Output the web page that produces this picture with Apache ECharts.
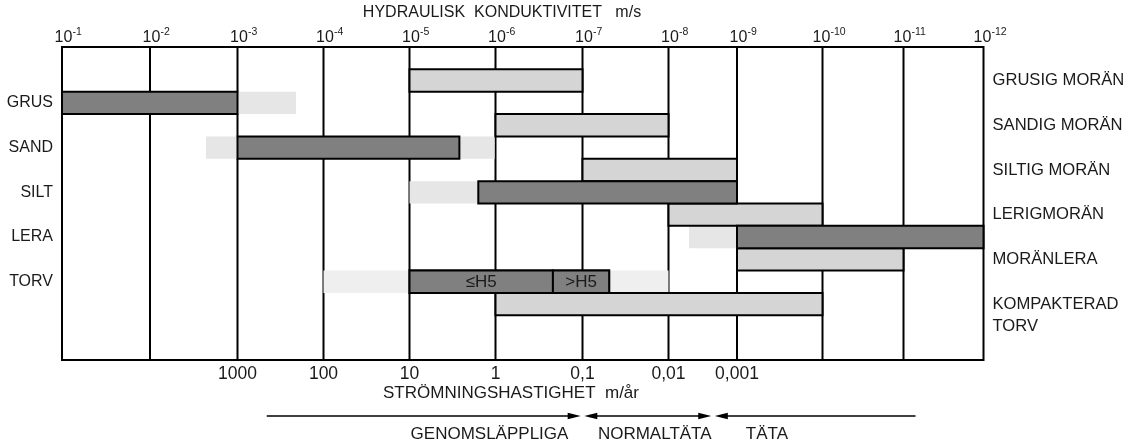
<!DOCTYPE html>
<html><head><meta charset="utf-8">
<script src="https://cdn.jsdelivr.net/npm/echarts@6/dist/echarts.min.js"></script>
<style>html,body{margin:0;padding:0;background:#fff}#chart{width:1137px;height:444px}</style>
</head><body><div id="chart"></div>
<script>
// ---------------- data ----------------
const titleText = 'HYDRAULISK  KONDUKTIVITET   m/s';
const conductivityExponents = [1, 2, 3, 4, 5, 6, 7, 8, 9, 10, 11, 12]; // K = 10^-n m/s
const velocityLabels = ['1000', '100', '10', '1', '0,1', '0,01', '0,001'];
const velocityExponents = [3, 4, 5, 6, 7, 8, 9];
const velocityTitle = 'STRÖMNINGSHASTIGHET  m/år';

const soilNames = ['GRUS', 'SAND', 'SILT', 'LERA', 'TORV'];
const soilFullRange = [[1, 3.68], [2.64, 5.99], [5, 9], [8.3, 12], [4, 8]];
const soilMainRange = [[1, 3], [3, 5.58], [5.8, 9], [9, 12], [5, 7.31]];
const torvSegmentNames = ['≤H5', '>H5'];
const torvSegmentRange = [[5, 6.66], [6.66, 7.31]];

const moraineNames = ['GRUSIG MORÄN', 'SANDIG MORÄN', 'SILTIG MORÄN', 'LERIGMORÄN', 'MORÄNLERA', 'KOMPAKTERAD\nTORV'];
const moraineRange = [[5, 7], [6, 8], [7, 9], [8, 10], [9, 11], [6, 10]];

const classNames = ['GENOMSLÄPPLIGA', 'NORMALTÄTA', 'TÄTA'];
const classRange = [[3.34, 7], [7, 8.65], [8.65, 11.15]];
const classHeads = [[false, true], [true, true], [true, false]];
const classLabelAt = [5.93, 7.84, 9.35];

// ---------------- layout / style ----------------
const FONT = '"Liberation Sans", Arial, sans-serif';
const TEXT = '#1a1a1a';
const DARK = '#808080', MORAINE = '#d5d5d5', EXT = '#e6e6e6', EXT_TORV = '#efefef';
const DECADE_WIDTHS = [88, 87.5, 86, 86, 86, 87, 86, 68.5, 85.5, 81, 80]; // drawing's uneven decade spacing
const CUM = [0];
DECADE_WIDTHS.forEach(w => CUM.push(CUM[CUM.length - 1] + w));
const X_MAX = CUM[CUM.length - 1];
function xOf(n) {
  const d = n - 1;
  const i = Math.max(0, Math.min(Math.floor(d), DECADE_WIDTHS.length - 1));
  return CUM[i] + (d - i) * DECADE_WIDTHS[i];
}

const ROWS = 14;
const rowLeft = new Array(ROWS).fill('');
const rowRight = new Array(ROWS).fill('');
const soilRow = i => 2 + 2 * i;
const moraineRow = i => 1 + 2 * i;
soilNames.forEach((n, i) => { rowLeft[soilRow(i)] = n; });
moraineNames.forEach((n, i) => { n.split('\n').forEach((part, k) => { rowRight[moraineRow(i) + k] = part; }); });
const rowIds = rowLeft.map((_, i) => String(i));

function rectItem(fillFn, stroke, withText) {
  return function (params, api) {
    const row = api.value(2);
    const p0 = api.coord([api.value(0), row]);
    const p1 = api.coord([api.value(1), row]);
    const h = api.size([0, 1])[1];
    const idx = params.dataIndex;
    const children = [{
      type: 'rect',
      shape: { x: p0[0], y: p0[1] - h / 2, width: p1[0] - p0[0], height: h },
      style: stroke ? { fill: fillFn(idx), stroke: '#000', lineWidth: 2 } : { fill: fillFn(idx) }
    }];
    if (withText) {
      children.push({
        type: 'text',
        style: { text: withText[idx], x: (p0[0] + p1[0]) / 2, y: p0[1] + 1, align: 'center', verticalAlign: 'middle',
                 font: '17px ' + FONT, fill: '#1a1a1a' }
      });
    }
    return { type: 'group', children };
  };
}

const option = {
  animation: false,
  backgroundColor: '#fff',
  grid: { left: 62, top: 47, width: X_MAX, height: 313, show: true, borderColor: '#000', borderWidth: 2, backgroundColor: 'transparent' },
  xAxis: { type: 'value', min: 0, max: X_MAX, show: false },
  yAxis: [
    { type: 'category', data: rowIds, inverse: true, position: 'left',
      axisLine: { show: false }, axisTick: { show: false }, splitLine: { show: false },
      axisLabel: { interval: 0, margin: 9, fontSize: 16, fontFamily: FONT, color: TEXT, formatter: (v, i) => rowLeft[i] } },
    { type: 'category', data: rowIds, inverse: true, position: 'right',
      axisLine: { show: false }, axisTick: { show: false }, splitLine: { show: false },
      axisLabel: { interval: 0, margin: 9, fontSize: 16.6, fontFamily: FONT, color: TEXT, formatter: (v, i) => rowRight[i] } }
  ],
  graphic: [
    { type: 'text', x: 502, y: 13, style: { text: titleText, font: '16px ' + FONT, fill: TEXT, align: 'center', verticalAlign: 'middle' } },
    { type: 'text', x: 511, y: 393, style: { text: velocityTitle, font: '17px ' + FONT, fill: TEXT, align: 'center', verticalAlign: 'middle' } }
  ],
  series: [
    { // vertical decade lines
      type: 'custom', z: 1, clip: false, encode: { x: 0, y: 1 },
      data: conductivityExponents.slice(1, -1).map(n => [xOf(n), 0]),
      renderItem: (params, api) => {
        const x = api.coord([api.value(0), 0])[0];
        const cs = params.coordSys;
        return { type: 'line', shape: { x1: x, y1: cs.y, x2: x, y2: cs.y + cs.height }, style: { stroke: '#000', lineWidth: 2 } };
      }
    },
    { // soil full ranges (light)
      type: 'custom', z: 2, encode: { x: [0, 1], y: 2 },
      data: soilFullRange.map((r, i) => [xOf(r[0]), xOf(r[1]), soilRow(i)]),
      renderItem: rectItem(i => (soilNames[i] === 'TORV' ? EXT_TORV : EXT), false)
    },
    { // moraine ranges
      type: 'custom', z: 3, encode: { x: [0, 1], y: 2 },
      data: moraineRange.map((r, i) => [xOf(r[0]), xOf(r[1]), moraineRow(i)]),
      renderItem: rectItem(() => MORAINE, true)
    },
    { // soil main ranges (dark)
      type: 'custom', z: 4, encode: { x: [0, 1], y: 2 },
      data: soilMainRange.map((r, i) => [xOf(r[0]), xOf(r[1]), soilRow(i)]),
      renderItem: rectItem(() => DARK, true)
    },
    { // torv segments
      type: 'custom', z: 5, encode: { x: [0, 1], y: 2 },
      data: torvSegmentRange.map(r => [xOf(r[0]), xOf(r[1]), soilRow(soilNames.indexOf('TORV'))]),
      renderItem: rectItem(() => DARK, true, torvSegmentNames)
    },
    { // top tick labels 10^-n
      type: 'custom', z: 6, clip: false, encode: { x: 0, y: 2 },
      data: conductivityExponents.map(n => [xOf(n), n, 0]),
      renderItem: (params, api) => {
        const x = api.coord([api.value(0), 0])[0];
        const n = api.value(1);
        const top = params.coordSys.y;
        const supW = n >= 10 ? 14 : 9;
        const left = x + 6 - (18 + supW) / 2;
        return { type: 'group', children: [
          { type: 'text', style: { text: '10', x: left, y: top - 9, align: 'left', verticalAlign: 'middle', font: '16px ' + FONT, fill: TEXT } },
          { type: 'text', style: { text: '-' + n, x: left + 18, y: top - 15, align: 'left', verticalAlign: 'middle', font: '10.5px ' + FONT, fill: TEXT } }
        ] };
      }
    },
    { // velocity labels
      type: 'custom', z: 6, clip: false, encode: { x: 0, y: 1 },
      data: velocityExponents.map((n, i) => [xOf(n), 0, i]),
      renderItem: (params, api) => {
        const x = api.coord([api.value(0), 0])[0];
        const cs = params.coordSys;
        return { type: 'text', style: { text: velocityLabels[api.value(2)], x: x, y: cs.y + cs.height + 14, align: 'center', verticalAlign: 'middle', font: '17.5px ' + FONT, fill: TEXT } };
      }
    },
    { // permeability class arrows + labels
      type: 'custom', z: 6, clip: false, encode: { x: [0, 1], y: 3 },
      data: classRange.map((r, i) => [xOf(r[0]), xOf(r[1]), xOf(classLabelAt[i]), 0, i]),
      renderItem: (params, api) => {
        const i = api.value(4);
        const cs = params.coordSys;
        const y = cs.y + cs.height + 56;
        let x0 = api.coord([api.value(0), 0])[0];
        let x1 = api.coord([api.value(1), 0])[0];
        const lx = api.coord([api.value(2), 0])[0];
        const L = 13, W = 3.2, gap = 1.8;
        const heads = classHeads[i];
        const children = [];
        if (heads[0]) { x0 += gap; children.push({ type: 'polygon', shape: { points: [[x0, y], [x0 + L, y - W], [x0 + L, y + W]] }, style: { fill: '#000' } }); }
        if (heads[1]) { x1 -= gap; children.push({ type: 'polygon', shape: { points: [[x1, y], [x1 - L, y - W], [x1 - L, y + W]] }, style: { fill: '#000' } }); }
        children.push({ type: 'line', shape: { x1: x0 + (heads[0] ? L - 1 : 0), y1: y, x2: x1 - (heads[1] ? L - 1 : 0), y2: y }, style: { stroke: '#000', lineWidth: 1.5 } });
        children.push({ type: 'text', style: { text: classNames[i], x: lx, y: y + 18, align: 'center', verticalAlign: 'middle', font: '17px ' + FONT, fill: TEXT } });
        return { type: 'group', children };
      }
    }
  ]
};
const chart = echarts.init(document.getElementById('chart'));
chart.setOption(option);
</script>
</body></html>
